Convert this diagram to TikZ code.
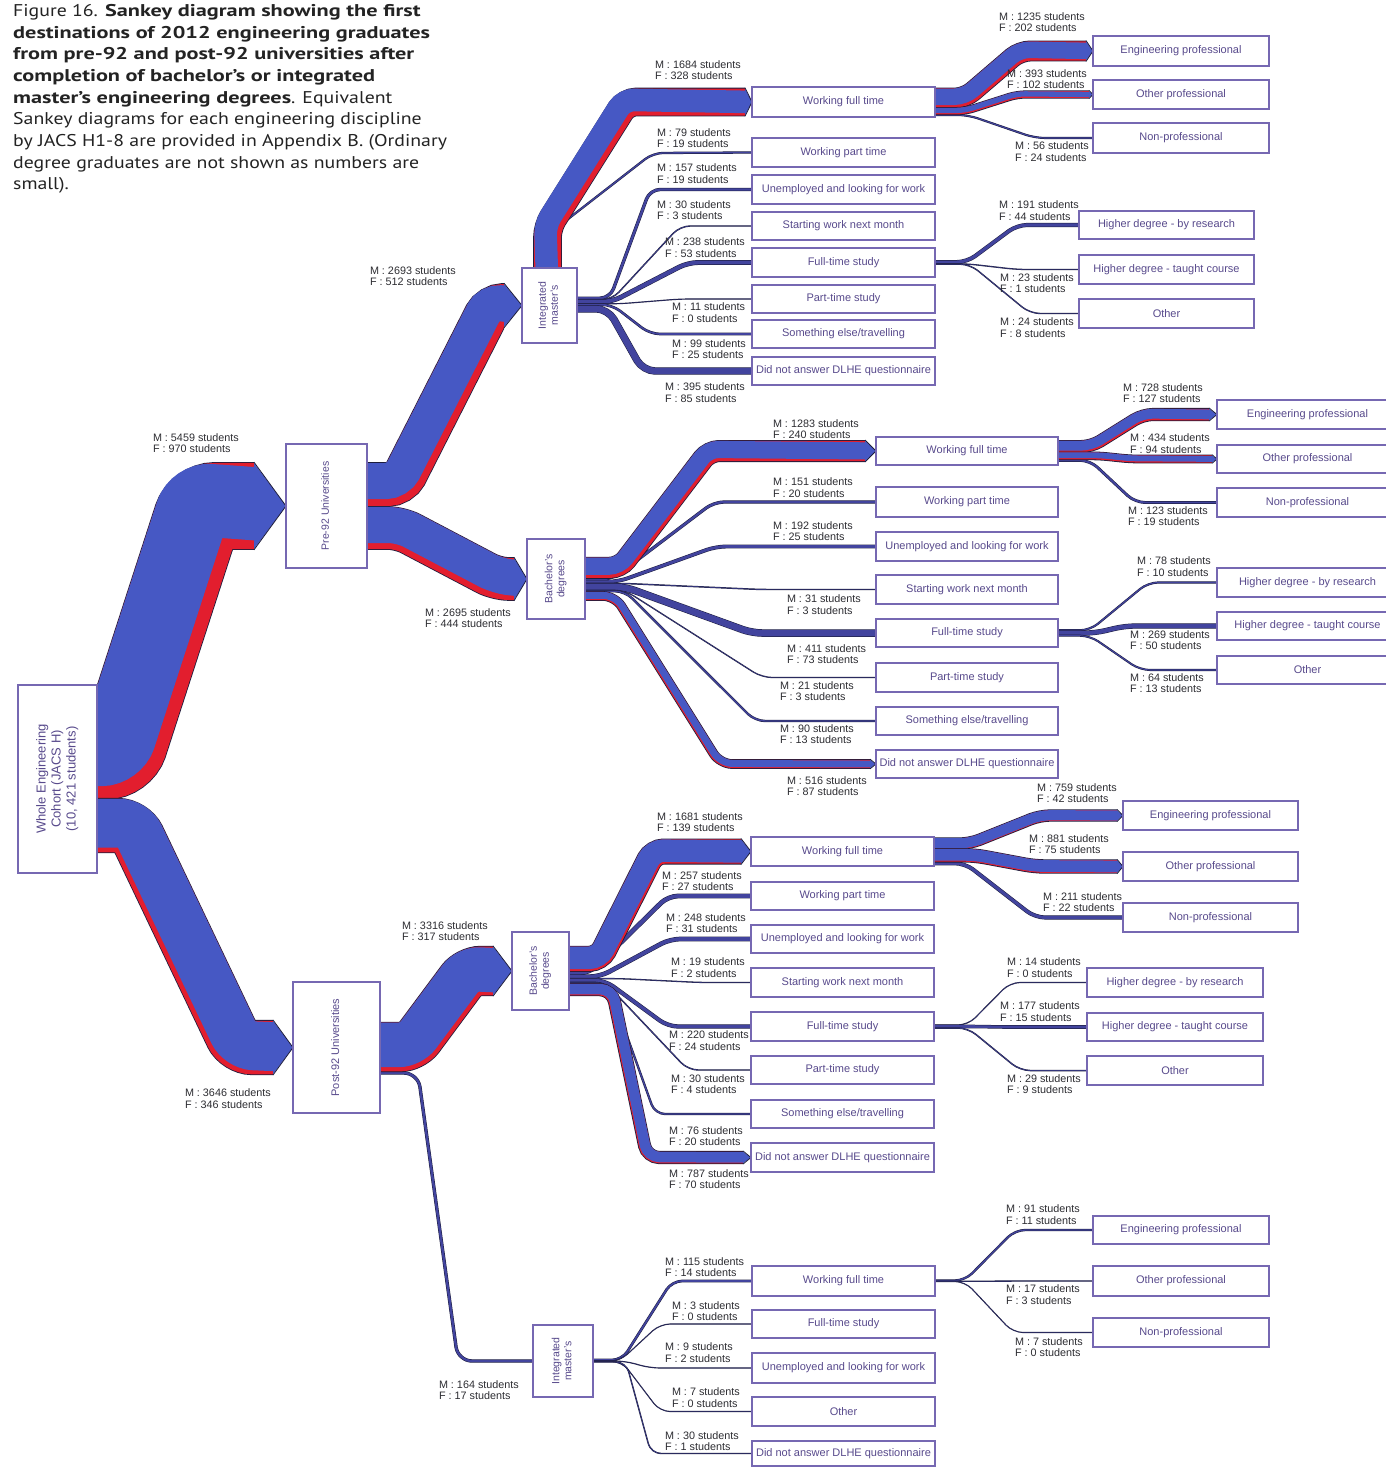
\documentclass[tikz,border=0pt]{standalone}
\usepackage{fontspec}
\usepackage{graphicx}
\usetikzlibrary{calc}
\setmainfont{Liberation Sans}
\newfontfamily\capreg[FakeStretch=1.165]{PT Sans}
\newfontfamily\capbld[FakeStretch=1.31]{PT Sans}
\newcommand\cb[1]{{\capbld\bfseries #1}}
\definecolor{flowblue}{RGB}{70,88,196}
\definecolor{thinblue}{RGB}{66,68,158}
\definecolor{flowred}{RGB}{226,30,46}
\definecolor{flowedge}{RGB}{28,28,60}
\definecolor{boxline}{RGB}{118,104,178}
\definecolor{boxtext}{RGB}{88,74,140}
\definecolor{labtext}{RGB}{45,45,50}
\definecolor{captext}{RGB}{35,35,35}
\pgfdeclarelayer{back}
\pgfdeclarelayer{flows}
\pgfsetlayers{back,flows,main}

\newcommand\mkbox[6]{%
  \pgfmathsetmacro\mbW{#4-#2}\pgfmathsetmacro\mbH{#5-#3}%
  \pgfmathsetmacro\mbX{(#2+#4)/2}\pgfmathsetmacro\mbY{(#3+#5)/2}%
  \node[bx, minimum width=\mbW pt, minimum height=\mbH pt] (#1) at (\mbX,\mbY) {#6};}
\newcommand\mklab[5]{\node[lab] (#1) at (#2,#3) {M : #4 students\\F : #5 students};}
\newcommand\band[7]{%
  \pgfmathsetmacro\bdO{#2+1.6}%
  \pgfmathsetmacro\bdH{#2/2}%
  \pgfmathsetmacro\bdHH{#2/2+0.8}%
  \begin{scope}
    \clip (-50,-50) rectangle ($(#5.west)+(-#6,1600)$);
    \draw[flowedge, line width=\bdO pt, rounded corners=#7pt] #1;
    \draw[flowred, line width=#2pt, rounded corners=#7pt] #1;
    \draw[flowblue, line width=#3pt, rounded corners=#7pt, shift={#4}] #1;
  \end{scope}
  \fill[flowblue] ($(#5.west)+(-#6,-\bdH)$) -- (#5.west) -- ($(#5.west)+(-#6,\bdH)$) -- cycle;
  \draw[flowedge, line width=0.8pt] ($(#5.west)+(-#6,-\bdHH)$) -- (#5.west) -- ($(#5.west)+(-#6,\bdHH)$);
}
\newcommand\thinflow[3][10]{%
  \pgfmathsetmacro\tfO{#2+1.0}%
  \draw[flowedge, line width=\tfO pt, rounded corners=#1pt] #3;
  \draw[thinblue, line width=#2pt, rounded corners=#1pt] #3;}
\newcommand\rtext[3]{\rotatebox{90}{\fontsize{#1}{#2}\selectfont\begin{tabular}{@{}c@{}}#3\end{tabular}}}

\begin{document}
\begin{tikzpicture}[x=1pt,y=-1pt,
  bx/.style={draw=boxline, line width=1.3pt, fill=white, inner sep=0pt, outer sep=0pt, text=boxtext, font=\fontsize{11}{12.5}\selectfont, align=center},
  lab/.style={inner sep=0pt, outer sep=0pt, align=left, text=labtext, font=\fontsize{10.8}{11.7}\selectfont, anchor=west}]
\useasboundingbox (0,0) rectangle (1385,1467);
\begin{pgfonlayer}{back}
\fill[white] (0,0) rectangle (1385,1467);
\end{pgfonlayer}

% caption
\node[anchor=north west, align=left, inner sep=0pt, text=captext, font=\capreg\fontsize{17}{21.7}\selectfont] (cap) at (13,4)
 {Figure 16. \cb{Sankey diagram showing the first}\\
  \cb{destinations of 2012 engineering graduates}\\
  \cb{from pre-92 and post-92 universities after}\\
  \cb{completion of bachelor’s or integrated}\\
  \cb{master’s engineering degrees}. Equivalent\\
  Sankey diagrams for each engineering discipline\\
  by JACS H1-8 are provided in Appendix B. (Ordinary\\
  degree graduates are not shown as numbers are\\
  small).};

% ---------- boxes ----------
\mkbox{coh}{18}{685}{97}{873}{\rtext{13}{15}{Whole Engineering\\Cohort (JACS H)\\(10, 421 students)}}
\mkbox{pre}{286}{444}{367}{568}{\rtext{10.5}{12}{Pre-92 Universities}}
\mkbox{post}{293}{982}{380}{1113}{\rtext{11}{12.5}{Post-92 Universities}}
\mkbox{im}{522}{268}{577}{343}{\rtext{10.5}{12}{Integrated\\master’s}}
\mkbox{bach}{527}{539}{585}{619}{\rtext{10.5}{12}{Bachelor’s\\degrees}}
\mkbox{pbach}{512}{932}{569}{1010}{\rtext{10.5}{12}{Bachelor’s\\degrees}}
\mkbox{pim}{533}{1325}{593}{1397}{\rtext{10.5}{12}{Integrated\\master’s}}

\mkbox{imwft}{752}{87}{935}{117}{Working full time}
\mkbox{imwpt}{752}{138}{935}{167}{Working part time}
\mkbox{imun}{752}{175}{935}{204}{Unemployed and looking for work}
\mkbox{imst}{752}{212}{935}{240}{Starting work next month}
\mkbox{imfts}{752}{248}{935}{277}{Full-time study}
\mkbox{impts}{752}{285}{935}{313}{Part-time study}
\mkbox{imse}{752}{320}{935}{348}{Something else/travelling}
\mkbox{imdna}{752}{357}{935}{385}{Did not answer DLHE questionnaire}
\mkbox{imep}{1093}{36}{1269}{66}{Engineering professional}
\mkbox{imop}{1093}{80}{1269}{109}{Other professional}
\mkbox{imnp}{1093}{123}{1269}{153}{Non-professional}
\mkbox{imhr}{1079}{211}{1254}{239}{Higher degree - by research}
\mkbox{imht}{1079}{255}{1254}{284}{Higher degree - taught course}
\mkbox{imot}{1079}{299}{1254}{328}{Other}

\mkbox{bwft}{876}{437}{1058}{465}{Working full time}
\mkbox{bwpt}{876}{487}{1058}{517}{Working part time}
\mkbox{bun}{876}{532}{1058}{561}{Unemployed and looking for work}
\mkbox{bst}{876}{575}{1058}{604}{Starting work next month}
\mkbox{bfts}{876}{619}{1058}{647}{Full-time study}
\mkbox{bpts}{876}{663}{1058}{692}{Part-time study}
\mkbox{bse}{876}{707}{1058}{735}{Something else/travelling}
\mkbox{bdna}{876}{750}{1058}{778}{Did not answer DLHE questionnaire}
\mkbox{bep}{1217}{400}{1398}{429}{Engineering professional}
\mkbox{bop}{1217}{445}{1398}{473}{Other professional}
\mkbox{bnp}{1217}{488}{1398}{517}{Non-professional}
\mkbox{bhr}{1217}{568}{1398}{597}{Higher degree - by research}
\mkbox{bht}{1217}{612}{1398}{640}{Higher degree - taught course}
\mkbox{bot}{1217}{656}{1398}{684}{Other}

\mkbox{pwft}{751}{837}{934}{866}{Working full time}
\mkbox{pwpt}{751}{882}{934}{910}{Working part time}
\mkbox{pun}{751}{925}{934}{953}{Unemployed and looking for work}
\mkbox{pst}{751}{968}{934}{997}{Starting work next month}
\mkbox{pfts}{751}{1012}{934}{1041}{Full-time study}
\mkbox{ppts}{751}{1056}{934}{1084}{Part-time study}
\mkbox{pse}{751}{1100}{934}{1128}{Something else/travelling}
\mkbox{pdna}{751}{1143}{934}{1172}{Did not answer DLHE questionnaire}
\mkbox{pep}{1123}{801}{1298}{830}{Engineering professional}
\mkbox{pop}{1123}{852}{1298}{881}{Other professional}
\mkbox{pnp}{1123}{903}{1298}{932}{Non-professional}
\mkbox{phr}{1087}{968}{1263}{997}{Higher degree - by research}
\mkbox{pht}{1087}{1013}{1263}{1041}{Higher degree - taught course}
\mkbox{pot}{1087}{1056}{1263}{1085}{Other}

\mkbox{qwft}{752}{1266}{935}{1296}{Working full time}
\mkbox{qfts}{752}{1310}{935}{1338}{Full-time study}
\mkbox{qun}{752}{1353}{935}{1383}{Unemployed and looking for work}
\mkbox{qot}{752}{1397}{935}{1426}{Other}
\mkbox{qdna}{752}{1441}{935}{1466}{Did not answer DLHE questionnaire}
\mkbox{qep}{1093}{1216}{1269}{1244}{Engineering professional}
\mkbox{qop}{1093}{1266}{1269}{1296}{Other professional}
\mkbox{qnp}{1093}{1318}{1269}{1347}{Non-professional}

% ---------- flows ----------
\begin{pgfonlayer}{flows}
% thin flows
\thinflow{1.3}{($(im.center)+(0,-15)$) -- (550,233) -- (653,153) -- (imwpt.west)}
\thinflow{2.4}{(im.center |- 0,298.2) -- (610,298.2) -- (650,189.5) -- (imun.west)}
\thinflow{0.44}{(im.center |- 0,299.6) -- (612,299.6) -- (680,226) -- (imst.west)}
\thinflow{3.9}{(im.center |- 0,301.8) -- (612,301.8) -- (688,262.5) -- (imfts.west)}
\thinflow{0.15}{(im.center |- 0,303.8) -- (620,303.8) -- (680,299) -- (impts.west)}
\thinflow{1.66}{(im.center |- 0,304.7) -- (612,304.7) -- (650,334) -- (imse.west)}
\thinflow[12]{6.4}{(im.center |- 0,308.8) -- (608,308.8) -- (643,371) -- (imdna.west)}
\thinflow{1.1}{(imwft.center |- 0,115) -- (968,115) -- (1035,138) -- (imnp.west)}
\thinflow{3.15}{(imfts.center |- 0,262.1) -- (967,262.1) -- (1017,225) -- (imhr.west)}
\thinflow{0.3}{(imfts.center |- 0,263.8) -- (967,263.8) -- (1017,269.5) -- (imht.west)}
\thinflow{0.4}{(imfts.center |- 0,264.2) -- (970,264.2) -- (1030,313.5) -- (imot.west)}

\thinflow{2.3}{(bach.center |- 0,579.15) -- (612,579.15) -- (714,502) -- (bwpt.west)}
\thinflow{2.9}{(bach.center |- 0,581.75) -- (618,581.75) -- (716,546.5) -- (bun.west)}
\thinflow{0.46}{(bach.center |- 0,583.45) -- (625,583.45) -- (760,589.5) -- (bst.west)}
\thinflow{6.5}{(bach.center |- 0,586.95) -- (625,586.95) -- (752,633) -- (bfts.west)}
\thinflow{0.3}{(bach.center |- 0,590.35) -- (625,590.35) -- (762,677.5) -- (bpts.west)}
\thinflow{1.4}{(bach.center |- 0,591.2) -- (625,591.2) -- (755,721) -- (bse.west)}
\thinflow{1.9}{(bwft.center |- 0,460.35) -- (1090,460.35) -- (1135,502.5) -- (bnp.west)}
\thinflow{1.18}{(bfts.center |- 0,630.3) -- (1090,630.3) -- (1148,582.5) -- (bhr.west)}
\thinflow{4.27}{(bfts.center |- 0,633.05) -- (1095,633.05) -- (1125,626) -- (bht.west)}
\thinflow{1.03}{(bfts.center |- 0,635.7) -- (1090,635.7) -- (1140,670) -- (bot.west)}

\thinflow[14]{2.4}{(post.center |- 0,1073) -- (418,1073) -- (458,1361) -- (pim.west)}
\thinflow{3.8}{(pbach.center |- 0,972.9) -- (590,972.9) -- (668,896) -- (pwpt.west)}
\thinflow{3.7}{(pbach.center |- 0,976.65) -- (600,976.65) -- (670,939) -- (pun.west)}
\thinflow{0.3}{(pbach.center |- 0,978.6) -- (620,978.6) -- (700,982.5) -- (pst.west)}
\thinflow{3.3}{(pbach.center |- 0,980.45) -- (605,980.45) -- (668,1026.5) -- (pfts.west)}
\thinflow{0.46}{(pbach.center |- 0,982.35) -- (605,982.35) -- (688,1070) -- (ppts.west)}
\thinflow{1.3}{(pbach.center |- 0,983.25) -- (608,983.25) -- (655,1114) -- (pse.west)}
\thinflow{3.1}{(pwft.center |- 0,863.25) -- (965,863.25) -- (1035,917.5) -- (pnp.west)}
\thinflow{0.19}{(pfts.center |- 0,1025) -- (968,1025) -- (1010,982.5) -- (phr.west)}
\thinflow{2.57}{(pfts.center |- 0,1026.5) -- (980,1026.5) -- (1000,1027) -- (pht.west)}
\thinflow{0.51}{(pfts.center |- 0,1028) -- (968,1028) -- (1020,1070.5) -- (pot.west)}

\thinflow{1.73}{(pim.center |- 0,1360) -- (622,1360) -- (672,1281) -- (qwft.west)}
\thinflow{0.1}{(pim.center |- 0,1361) -- (620,1361) -- (660,1324) -- (qfts.west)}
\thinflow{0.15}{(pim.center |- 0,1361) -- (625,1361) -- (650,1368) -- (qun.west)}
\thinflow{0.1}{(pim.center |- 0,1361.5) -- (622,1361.5) -- (660,1411.5) -- (qot.west)}
\thinflow{0.42}{(pim.center |- 0,1362) -- (626,1362) -- (651,1453.5) -- (qdna.west)}
\thinflow{1.37}{(qwft.center |- 0,1280.5) -- (965,1280.5) -- (1015,1230) -- (qep.west)}
\thinflow{0.27}{(qwft.center |- 0,1281.3) -- (qop.west)}
\thinflow{0.1}{(qwft.center |- 0,1281.5) -- (965,1281.5) -- (1013,1332.5) -- (qnp.west)}

% bands (male blue / female red)
\band{(coh.center |- 0,756) -- (120,756) -- (201,506) -- (pre.west)}{86.1}{73.2}{(-4.7,-6.5)}{pre}{32}{14}
\band{(coh.center |- 0,825.5) -- (132,825.5) -- (238,1047.5) -- (post.west)}{53.5}{48.9}{(1.45,-2.3)}{post}{20}{14}
\band{(pre.center |- 0,484.5) -- (400,484.5) -- (491,305.5) -- (im.west)}{43}{36.1}{(-2.1,-3.45)}{im}{18}{12}
\band{(pre.center |- 0,528) -- (400,528) -- (497,579) -- (bach.west)}{42}{36.1}{(0.74,-3)}{bach}{13}{12}
\band{(post.center |- 0,1047) -- (412,1047) -- (468.5,971) -- (pbach.west)}{48.7}{44.4}{(-1.05,-2.1)}{pbach}{19}{12}
\band{($(im.center)+(-2,-15)$) -- (547.5,227) -- (626,102) -- (imwft.west)}{27}{22.6}{(-2.2,-2.2)}{imwft}{7}{10}
\band{(imwft.center |- 0,98.1) -- (965,98.1) -- (1020,51) -- (imep.west)}{19.3}{16.5}{(-0.5,-1.35)}{imep}{7}{10}
\band{(imwft.center |- 0,111.1) -- (965,111.1) -- (1017,94.5) -- (imop.west)}{6.6}{5.3}{(-0.1,-0.7)}{imop}{4}{8}
\band{(bach.center |- 0,567.75) -- (620,567.75) -- (709,451) -- (bwft.west)}{20.4}{17.2}{(-0.8,-1.6)}{bwft}{11}{10}
\band{(bach.center |- 0,595.95) -- (615,595.95) -- (720,764) -- (bdna.west)}{8.1}{6.9}{(0.32,-0.58)}{bdna}{6}{12}
\band{(bwft.center |- 0,446.55) -- (1091.5,446.55) -- (1142.8,414.5) -- (bep.west)}{11.5}{9.8}{(-0.25,-0.85)}{bep}{8}{10}
\band{(bwft.center |- 0,455.85) -- (1100,455.85) -- (1130,459) -- (bop.west)}{7.1}{5.8}{(0.05,-0.65)}{bop}{5}{8}
\band{(pbach.center |- 0,958.8) -- (599.6,958.8) -- (653.6,851.5) -- (pwft.west)}{24.4}{22.5}{(-0.57,-0.93)}{pwft}{10}{10}
\band{(pbach.center |- 0,989.65) -- (612,989.65) -- (647,1157.5) -- (pdna.west)}{11.5}{10.5}{(0.38,-0.5)}{pdna}{8}{12}
\band{(pwft.center |- 0,843.55) -- (970,843.55) -- (1040,815.5) -- (pep.west)}{10.7}{10.2}{(-0.05,-0.28)}{pep}{6}{10}
\band{(pwft.center |- 0,855.3) -- (975,855.3) -- (1035,866.5) -- (pop.west)}{12.8}{11.8}{(0.1,-0.5)}{pop}{6}{10}
\end{pgfonlayer}

% ---------- labels ----------
\mklab{l1}{153}{443}{5459}{970}
\mklab{l2}{370}{276}{2693}{512}
\mklab{l3}{425}{618}{2695}{444}
\mklab{l4}{185}{1098.5}{3646}{346}
\mklab{l5}{402}{931}{3316}{317}
\mklab{l6}{439}{1390}{164}{17}

\mklab{l7}{655}{70}{1684}{328}
\mklab{l8}{657}{138}{79}{19}
\mklab{l9}{657}{173.5}{157}{19}
\mklab{l10}{657}{210}{30}{3}
\mklab{l11}{665}{247.5}{238}{53}
\mklab{l12}{672}{312.5}{11}{0}
\mklab{l13}{672}{349}{99}{25}
\mklab{l14}{665}{392.5}{395}{85}
\mklab{l15}{999}{22}{1235}{202}
\mklab{l16}{1007}{79}{393}{102}
\mklab{l17}{1015}{151.5}{56}{24}
\mklab{l18}{999}{210.5}{191}{44}
\mklab{l19}{1000}{283}{23}{1}
\mklab{l20}{1000}{327.5}{24}{8}

\mklab{l21}{773}{429}{1283}{240}
\mklab{l22}{773}{487.5}{151}{20}
\mklab{l23}{773}{531}{192}{25}
\mklab{l24}{787}{604.5}{31}{3}
\mklab{l25}{787}{654}{411}{73}
\mklab{l26}{780}{691}{21}{3}
\mklab{l27}{780}{734}{90}{13}
\mklab{l28}{787}{786}{516}{87}
\mklab{l29}{1123}{393}{728}{127}
\mklab{l30}{1130}{443.5}{434}{94}
\mklab{l31}{1128}{516}{123}{19}
\mklab{l32}{1137}{566.5}{78}{10}
\mklab{l33}{1130}{640}{269}{50}
\mklab{l34}{1130}{683}{64}{13}

\mklab{l35}{657}{822}{1681}{139}
\mklab{l36}{662}{881}{257}{27}
\mklab{l37}{666}{923}{248}{31}
\mklab{l38}{671}{967.5}{19}{2}
\mklab{l39}{669}{1040.5}{220}{24}
\mklab{l40}{671}{1084}{30}{4}
\mklab{l41}{669}{1136}{76}{20}
\mklab{l42}{669}{1179}{787}{70}
\mklab{l43}{1037}{793}{759}{42}
\mklab{l44}{1029}{844}{881}{75}
\mklab{l45}{1043}{902}{211}{22}
\mklab{l46}{1007}{967.5}{14}{0}
\mklab{l47}{1000}{1011.5}{177}{15}
\mklab{l48}{1007}{1084}{29}{9}

\mklab{l49}{665}{1267}{115}{14}
\mklab{l50}{672}{1311}{3}{0}
\mklab{l51}{665}{1352.5}{9}{2}
\mklab{l52}{672}{1397.5}{7}{0}
\mklab{l53}{665}{1441}{30}{1}
\mklab{l54}{1006}{1214.5}{91}{11}
\mklab{l55}{1006}{1294.5}{17}{3}
\mklab{l56}{1015}{1347}{7}{0}
\end{tikzpicture}
\end{document}
